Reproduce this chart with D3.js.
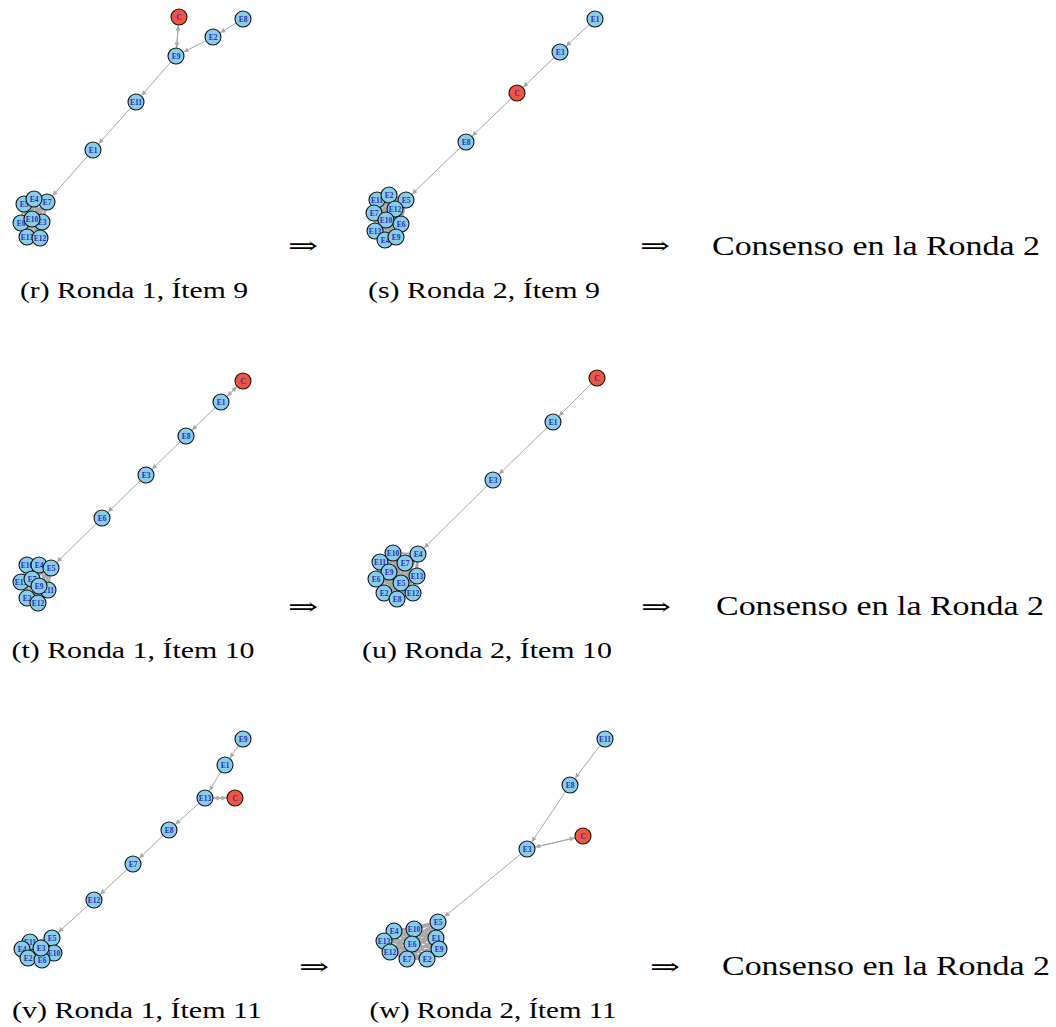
<!DOCTYPE html>
<html>
<head>
<meta charset="utf-8">
<script src="https://cdn.jsdelivr.net/npm/d3@7"></script>
<style>
  body { margin: 0; background: #fff; }
  .cap { font-family: "Liberation Serif", serif; fill: #000; }
  .lab { font-family: "Liberation Serif", serif; font-weight: bold; fill: #2a2ab8; }
</style>
</head>
<body>
<script>
// layout coordinates of each node (graph space, one panel = 260 x 260)
var nodesR = [["C",179,17],["E8",243,19],["E2",213,37],["E9",176,56],["E11",136,102],["E1",93,150],
  ["E5",24,204],["E6",21,223],["E13",27,237],["E3",42,222],["E7",47,202],["E4",34,199],["E10",32,219],["E12",40,238]];
var edgesR = [["E8","E2"],["E2","E9"],["C","E9"],["E9","C"],["E9","E11"],["E11","E1"],["E1","E7"]];
var clusterR = ["E5","E6","E13","E3","E7","E4","E10","E12"];

var nodesS = [["E1",245,19],["E3",210,52],["C",167,93],["E8",116,142],
  ["E11",27,200],["E2",39,195],["E5",56,200],["E12",45,209],["E7",24,213],["E10",36,220],["E6",51,224],["E13",25,231],["E4",35,240],["E9",46,237]];
var edgesS = [["E1","E3"],["E3","C"],["C","E8"],["E8","E5"]];
var clusterS = ["E11","E2","E5","E12","E7","E10","E6","E13","E4","E9"];

var nodesT = [["C",243,21],["E1",221,42],["E8",186,76],["E3",146,115],["E6",102,158],
  ["E10",27,205],["E4",39,205],["E5",51,208],["E13",21,222],["E7",32,219],["E11",48,230],["E9",39,226],["E2",27,238],["E12",38,243]];
var edgesT = [["C","E1"],["E1","C"],["E1","E8"],["E8","E3"],["E3","E6"],["E6","E5"]];
var clusterT = ["E10","E4","E5","E13","E7","E11","E9","E2","E12"];

var nodesU = [["C",247,18],["E1",203,62],["E3",143,120],
  ["E10",43,193],["E4",68,194],["E11",30,202],["E7",55,203],["E9",39,212],["E6",26,219],["E13",67,216],["E5",51,223],["E2",34,233],["E12",63,233],["E8",47,239]];
var edgesU = [["C","E1"],["E1","E3"],["E3","E4"]];
var clusterU = ["E10","E4","E11","E7","E9","E6","E13","E5","E2","E12","E8"];

var nodesV = [["E9",243,19],["E1",225,45],["E13",205,78],["C",235,78],["E8",169,110],["E7",133,144],["E12",94,180],
  ["E5",52,218],["E11",30,222],["E4",22,229],["E10",54,233],["E2",28,238],["E6",42,240],["E3",41,228]];
var edgesV = [["E9","E1"],["E1","E13"],["C","E13"],["E13","C"],["E13","E8"],["E8","E7"],["E7","E12"],["E12","E5"]];
var clusterV = ["E5","E11","E4","E10","E2","E6","E3"];

var nodesW = [["E11",255,19],["E8",220,65],["C",233,116],["E3",177,129],
  ["E5",88,202],["E4",44,211],["E10",64,209],["E1",86,218],["E13",34,221],["E6",62,224],["E9",89,229],["E12",40,232],["E7",57,239],["E2",77,239]];
var edgesW = [["E11","E8"],["E8","E3"],["C","E3"],["E3","C"],["E3","E5"]];
var clusterW = ["E5","E4","E10","E1","E13","E6","E9","E12","E7","E2"];

// captions and arrows text
var captions = ["(r) Ronda 1, Ítem 9","(s) Ronda 2, Ítem 9","(t) Ronda 1, Ítem 10","(u) Ronda 2, Ítem 10","(v) Ronda 1, Ítem 11","(w) Ronda 2, Ítem 11"];
var resultText = "Consenso en la Ronda 2";

var W = 1056, H = 1027;
var svg = d3.select("body").append("svg").attr("width", W).attr("height", H);

svg.append("defs").append("marker")
    .attr("id", "arr")
    .attr("viewBox", "0 -5 10 10")
    .attr("refX", 10).attr("refY", 0)
    .attr("markerUnits", "userSpaceOnUse")
    .attr("markerWidth", 6).attr("markerHeight", 5)
    .attr("orient", "auto")
  .append("path")
    .attr("d", "M0,-5L10,0L0,5Z")
    .attr("fill", "#a8a8a8");

// panel placement on the page
var panels = [
  {nodes: nodesR, edges: edgesR, cluster: clusterR, ox: 0,   oy: 0},
  {nodes: nodesS, edges: edgesS, cluster: clusterS, ox: 350, oy: 0},
  {nodes: nodesT, edges: edgesT, cluster: clusterT, ox: 0,   oy: 360},
  {nodes: nodesU, edges: edgesU, cluster: clusterU, ox: 350, oy: 360},
  {nodes: nodesV, edges: edgesV, cluster: clusterV, ox: 0,   oy: 720},
  {nodes: nodesW, edges: edgesW, cluster: clusterW, ox: 350, oy: 720}
];
var R = 8;

panels.forEach(function(p){
  var x = d3.scaleLinear().domain([0, 260]).range([p.ox, p.ox + 260]);
  var y = d3.scaleLinear().domain([0, 260]).range([p.oy, p.oy + 260]);
  var pos = {};
  p.nodes.forEach(function(n){ pos[n[0]] = [x(n[1]), y(n[2])]; });
  var g = svg.append("g");

  // dense links inside the consensus group
  var pairs = [];
  p.cluster.forEach(function(a, i){
    p.cluster.forEach(function(b, j){ if (j > i) pairs.push([a, b]); });
  });
  g.selectAll(".cl").data(pairs).enter().append("line")
    .attr("x1", function(d){ return pos[d[0]][0]; })
    .attr("y1", function(d){ return pos[d[0]][1]; })
    .attr("x2", function(d){ return pos[d[1]][0]; })
    .attr("y2", function(d){ return pos[d[1]][1]; })
    .attr("stroke", "#a8a8a8").attr("stroke-width", 2.2);

  // directed links
  g.selectAll(".ed").data(p.edges).enter().append("line")
    .each(function(d){
      var s = pos[d[0]], t = pos[d[1]];
      var dx = t[0] - s[0], dy = t[1] - s[1], L = Math.sqrt(dx*dx + dy*dy);
      var ux = dx / L, uy = dy / L;
      d3.select(this)
        .attr("x1", s[0] + ux * R).attr("y1", s[1] + uy * R)
        .attr("x2", t[0] - ux * (R + 0.5)).attr("y2", t[1] - uy * (R + 0.5));
    })
    .attr("stroke", "#a8a8a8").attr("stroke-width", 1)
    .attr("marker-end", "url(#arr)");

  var nd = g.selectAll(".nd").data(p.nodes).enter().append("g")
    .attr("transform", function(d){ return "translate(" + x(d[1]) + "," + y(d[2]) + ")"; });
  nd.append("circle").attr("r", R)
    .attr("fill", function(d){ return d[0] === "C" ? "#f2553d" : "#87ceeb"; })
    .attr("stroke", "#111").attr("stroke-width", 1.1);
  nd.append("text").attr("class", "lab")
    .attr("text-anchor", "middle").attr("dy", "0.35em")
    .style("font-size", "7.5px")
    .text(function(d){ return d[0]; });
});

// captions under each panel
var capPos = [[134,298],[484,298],[133,658],[487,658],[137,1018],[493,1018]];
var capLen = [228,232,243,250,250,247];
svg.selectAll(".cap1").data(captions).enter().append("text")
  .attr("class", "cap")
  .attr("x", function(d, i){ return capPos[i][0]; })
  .attr("y", function(d, i){ return capPos[i][1]; })
  .attr("text-anchor", "middle")
  .attr("textLength", function(d, i){ return capLen[i]; })
  .attr("lengthAdjust", "spacingAndGlyphs")
  .style("font-size", "24px")
  .text(function(d){ return d; });

// implication arrows and result text
var arrowPos = [[303,254],[655,254],[303,615],[656,615],[314,975],[665,975]];
svg.selectAll(".imp").data(arrowPos).enter().append("text")
  .attr("x", function(d){ return d[0]; })
  .attr("y", function(d){ return d[1]; })
  .attr("text-anchor", "middle")
  .attr("textLength", 30).attr("lengthAdjust", "spacingAndGlyphs")
  .style("font-family", "DejaVu Serif, serif").style("font-size", "24px")
  .text("⇒");

var resPos = [[876,255],[880,615],[886,975]];
svg.selectAll(".res").data(resPos).enter().append("text")
  .attr("class", "cap")
  .attr("x", function(d){ return d[0]; })
  .attr("y", function(d){ return d[1]; })
  .attr("text-anchor", "middle")
  .attr("textLength", 328).attr("lengthAdjust", "spacingAndGlyphs")
  .style("font-size", "28px")
  .text(resultText);
</script>
</body>
</html>
